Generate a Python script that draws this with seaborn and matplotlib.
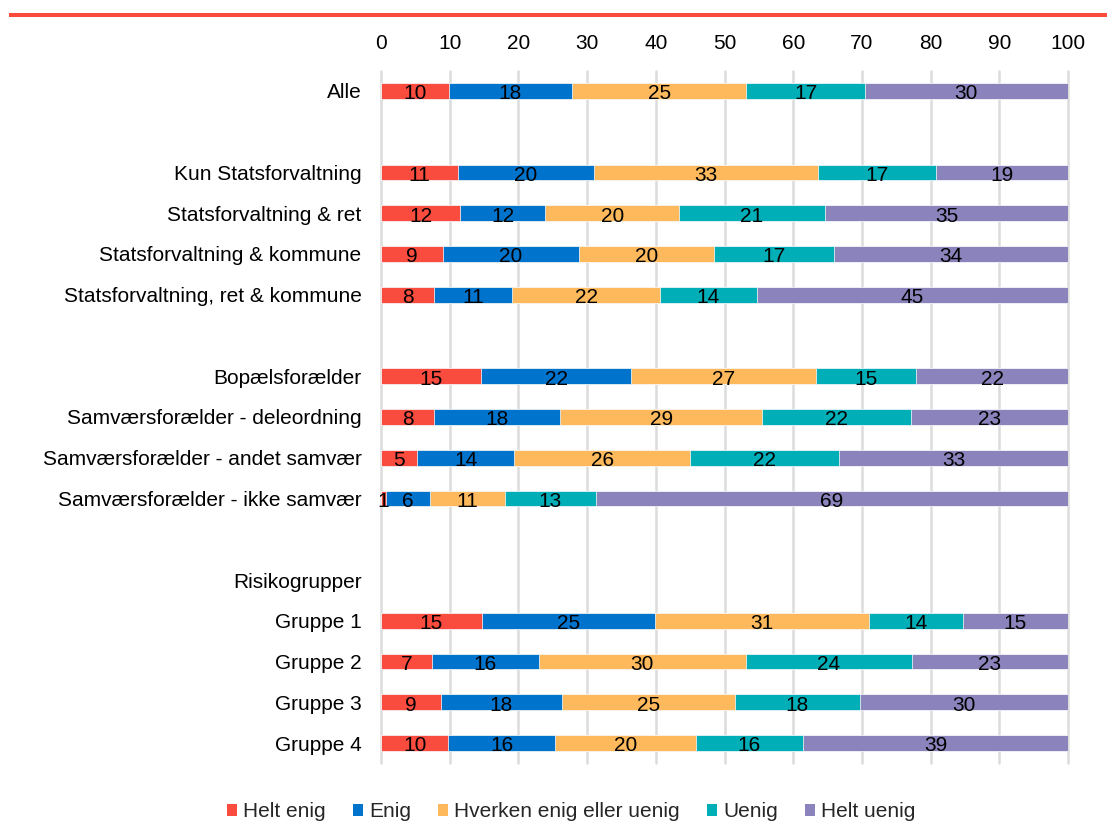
import matplotlib
matplotlib.use("Agg")
import matplotlib.pyplot as plt
import seaborn as sns
import pandas as pd
import numpy as np
from matplotlib.patches import Patch
from matplotlib.lines import Line2D

categories = ["Alle", "Kun Statsforvaltning", "Statsforvaltning & ret",
              "Statsforvaltning & kommune", "Statsforvaltning, ret & kommune",
              "Bopælsforælder", "Samværsforælder - deleordning",
              "Samværsforælder - andet samvær", "Samværsforælder - ikke samvær",
              "Gruppe 1", "Gruppe 2", "Gruppe 3", "Gruppe 4"]
row_order = ["Alle", " ",
             "Kun Statsforvaltning", "Statsforvaltning & ret",
             "Statsforvaltning & kommune", "Statsforvaltning, ret & kommune", "  ",
             "Bopælsforælder", "Samværsforælder - deleordning",
             "Samværsforælder - andet samvær", "Samværsforælder - ikke samvær", "   ",
             "Risikogrupper", "Gruppe 1", "Gruppe 2", "Gruppe 3", "Gruppe 4"]
series = ["Helt enig", "Enig", "Hverken enig eller uenig", "Uenig", "Helt uenig"]
helt_enig = [9.9, 11.2, 11.5, 9.0, 7.7, 14.6, 7.7, 5.2, 0.7, 14.7, 7.4, 8.7, 9.8]
enig = [17.9, 19.8, 12.4, 19.8, 11.4, 21.8, 18.4, 14.2, 6.4, 25.2, 15.6, 17.6, 15.6]
hverken = [25.4, 32.6, 19.5, 19.7, 21.5, 26.9, 29.4, 25.6, 10.9, 31.2, 30.1, 25.2, 20.4]
uenig = [17.2, 17.2, 21.2, 17.4, 14.1, 14.6, 21.6, 21.7, 13.3, 13.6, 24.2, 18.2, 15.6]
helt_uenig = [29.6, 19.2, 35.4, 34.1, 45.3, 22.1, 22.9, 33.3, 68.7, 15.3, 22.7, 30.3, 38.6]
colors = ["#F94C3E", "#0073CD", "#FDB95B", "#00AEB8", "#8B83BB"]
xticks = [0, 10, 20, 30, 40, 50, 60, 70, 80, 90, 100]

sns.set_theme(style="white")
plt.rcParams['font.family'] = 'Liberation Sans'
FS = 15

vals = np.array([helt_enig, enig, hverken, uenig, helt_uenig])
cum = np.cumsum(vals, axis=0)
df = pd.DataFrame({"cat": categories})
for i, s in enumerate(series):
    df[s] = cum[i]

fig = plt.figure(figsize=(11.07, 8.23), dpi=100)
ax = fig.add_axes([381/1107, 1 - 763.4/823, (1068 - 381)/1107, (763.4 - 70.6)/823])

for i in range(len(series) - 1, -1, -1):
    sns.barplot(data=df, x=series[i], y="cat", order=row_order, orient="h",
                color=colors[i], saturation=1, width=0.39, errorbar=None,
                edgecolor="white", linewidth=0.5, ax=ax, zorder=2)

for r, cat in enumerate(categories):
    yi = row_order.index(cat)
    start = 0
    for i in range(len(series)):
        v = vals[i, r]
        ax.text(start + v / 2, yi + 0.02, f"{int(round(v))}", ha="center",
                va="center_baseline", fontsize=FS, color="black", zorder=5)
        start += v

ax.set_xlim(0, 100)
ax.set_ylim(len(row_order) - 0.5, -0.5)
ax.set_xticks(xticks)
ax.set_xlabel("")
ax.set_ylabel("")
ax.xaxis.tick_top()
ax.tick_params(axis="x", length=0, pad=13, labelsize=FS, colors="black")
ax.tick_params(axis="y", length=0, pad=14, labelsize=FS, colors="black")
for sp in ax.spines.values():
    sp.set_visible(False)
ax.grid(axis="x", color="#DCDCDC", linewidth=1.8, zorder=0)
ax.set_axisbelow(True)
for gl in ax.get_xgridlines():
    gl.set_clip_on(False)

fig.add_artist(Line2D([9/1107, 1], [1 - 15/823, 1 - 15/823], color="#FA4B3C",
                      linewidth=2.9, solid_capstyle="butt", transform=fig.transFigure))

handles = [Patch(facecolor=c, edgecolor="none", label=s) for c, s in zip(colors, series)]
fig.legend(handles=handles, loc="center", bbox_to_anchor=(0.516, 0.0134), ncol=5,
           frameon=False, fontsize=FS, handlelength=0.48, handleheight=0.53,
           handletextpad=0.29, columnspacing=1.3, borderaxespad=0, borderpad=0)

fig.savefig("out.png", dpi=100)
